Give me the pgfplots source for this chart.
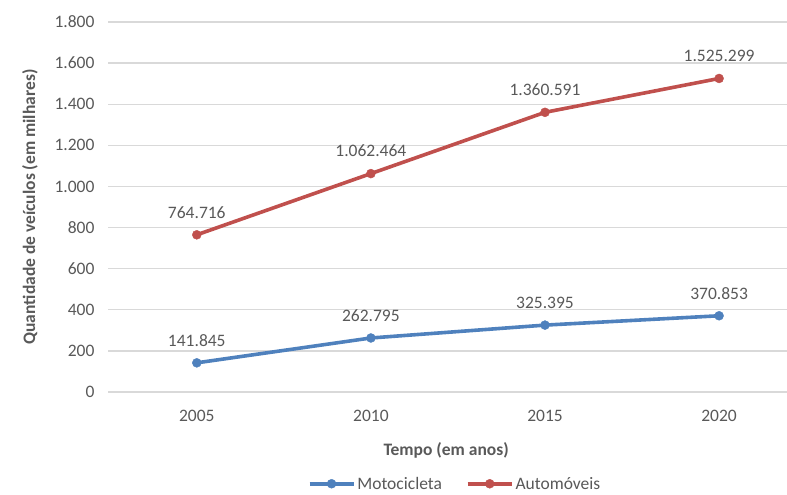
\documentclass[border=0pt]{standalone}
\usepackage{fontspec}
\setmainfont{Carlito}
\usepackage{pgfplots}
\pgfplotsset{compat=1.18}
\definecolor{motoc}{HTML}{4F81BD}
\definecolor{autoc}{HTML}{C0504D}
\definecolor{txt}{HTML}{595959}
\definecolor{grd}{HTML}{D9D9D9}
\newcommand\cf{\fontsize{17.5bp}{21bp}\selectfont}

\begin{document}
\begin{tikzpicture}
\useasboundingbox (0bp,0bp) rectangle (787bp,495bp);
\begin{axis}[
  at={(108bp,103bp)}, anchor=south west,
  scale only axis, width=679bp, height=370bp,
  xmin=-0.51, xmax=3.39, ymin=0, ymax=1800,
  xtick={0,1,2,3}, xticklabels={2005,2010,2015,2020},
  ytick={0,200,400,600,800,1000,1200,1400,1600,1800},
  yticklabels={0,200,400,600,800,1.000,1.200,1.400,1.600,1.800},
  axis line style={draw=none},
  major tick style={draw=none},
  ymajorgrids, grid style={grd, line width=1.3bp},
  ticklabel style={font=\cf, text=txt},
  yticklabel style={xshift=-10bp},
  xticklabel style={yshift=-15bp},
  xlabel={Tempo (em anos)},
  ylabel={Quantidade de veículos (em milhares)},
  label style={font=\cf\bfseries, text=txt},
  xlabel style={at={(axis description cs:0.498,-0.157)}, anchor=center},
  ylabel style={at={(axis description cs:-0.115,0.5)}, anchor=center},
  clip=false,
  nodes near coords,
  point meta=explicit symbolic,
  nodes near coords style={font=\cf, text=txt, anchor=south, yshift=13bp},
  legend columns=2,
  legend style={at={(axis description cs:0.511,-0.248)}, anchor=center,
    draw=none, font=\cf, text=txt, inner sep=1bp,
    /tikz/every even column/.append style={column sep=22bp}},
  legend image code/.code={\draw[mark repeat=2,mark phase=2,#1] plot coordinates {(0bp,0bp)(22bp,0bp)(44bp,0bp)};},
]
\addplot[motoc, line width=3.6bp, mark=*, mark size=4.5bp, mark options={line width=0.4bp}] table[meta=lab] {
x y lab
0 141.845 141.845
1 262.795 262.795
2 325.395 325.395
3 370.853 370.853
};
\addlegendentry{Motocicleta}
\addplot[autoc, line width=3.6bp, mark=*, mark size=4.5bp, mark options={line width=0.4bp}] table[meta=lab] {
x y lab
0 764.716 764.716
1 1062.464 1.062.464
2 1360.591 1.360.591
3 1525.299 1.525.299
};
\addlegendentry{Automóveis}
\end{axis}
\end{tikzpicture}
\end{document}
